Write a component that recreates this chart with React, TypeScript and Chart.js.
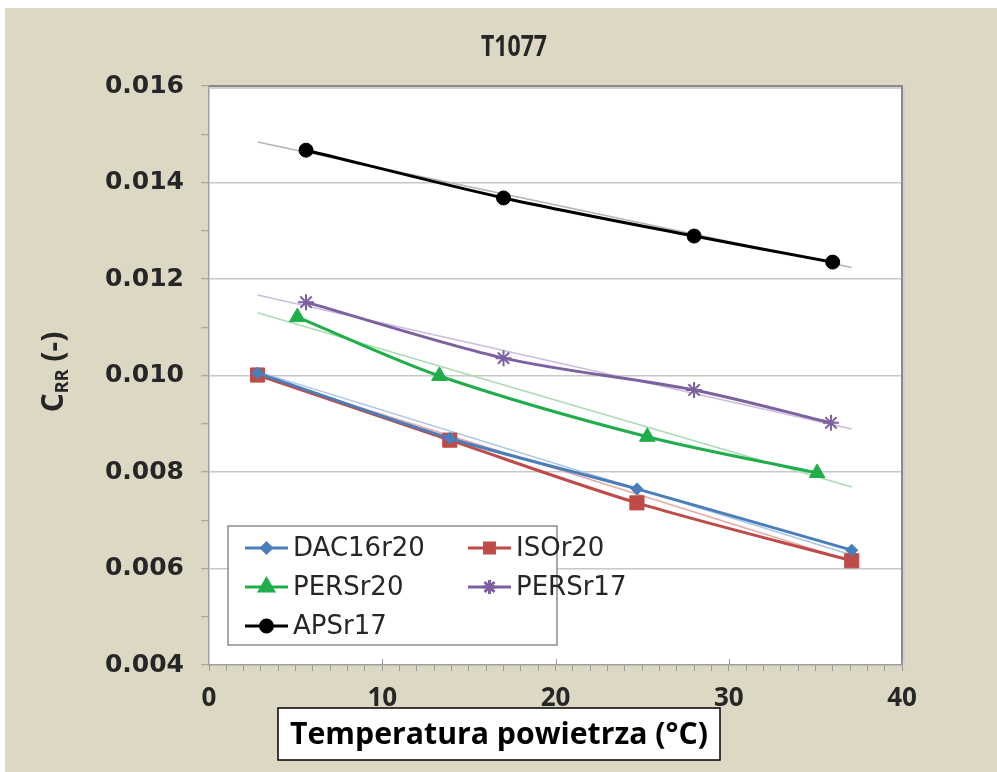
import React, { useEffect, useRef } from "react";
import { Chart, registerables } from "chart.js";
import { drawPoint } from "chart.js/helpers";

Chart.register(...registerables);

// ---- data ----
const chartTitle = "T1077";
const xAxisTitle = "Temperatura powietrza (°C)";
const seriesNames = ["DAC16r20", "ISOr20", "PERSr20", "PERSr17", "APSr17"];

const dacX = [2.8, 13.9, 24.7, 37.1];
const dacY = [0.01005, 0.0087, 0.00765, 0.00638];
const isoX = [2.8, 13.9, 24.7, 37.1];
const isoY = [0.01001, 0.00866, 0.00736, 0.00616];
const pers20X = [5.1, 13.3, 25.3, 35.1];
const pers20Y = [0.01121, 0.00999, 0.00873, 0.00798];
const pers17X = [5.6, 17.0, 28.0, 35.9];
const pers17Y = [0.01152, 0.01036, 0.0097, 0.00902];
const apsX = [5.6, 17.0, 28.0, 36.0];
const apsY = [0.01467, 0.01368, 0.01289, 0.01235];

// trendline end points
const trendX = [2.8, 37.1];
const dacTrendY = [0.01008, 0.00628];
const isoTrendY = [0.01, 0.00615];
const pers20TrendY = [0.0113, 0.00769];
const pers17TrendY = [0.01167, 0.00889];
const apsTrendY = [0.01484, 0.01224];

const xTickLabels = [0, 10, 20, 30, 40];
const yTickLabels = [0.004, 0.006, 0.008, 0.01, 0.012, 0.014, 0.016];

const pts = (xs: number[], ys: number[]) => xs.map((x, i) => ({ x, y: ys[i] }));

const COLORS = {
  dac: "#4a7ebb",
  iso: "#be4b48",
  pers20: "#1fae4a",
  pers17: "#7d60a0",
  aps: "#000000",
};

const isMajorY = (v: number) => yTickLabels.some((t) => Math.abs(t - v) < 1e-7);

const decorPlugin = {
  id: "decor",
  beforeDraw(chart: any) {
    const { ctx, chartArea } = chart;
    ctx.save();
    ctx.fillStyle = "#ffffff";
    ctx.fillRect(0, 0, chart.width, chart.height);
    ctx.fillStyle = "#dcd8c4";
    ctx.fillRect(5, 8, chart.width - 5, chart.height - 8);
    ctx.fillStyle = "#ffffff";
    ctx.fillRect(chartArea.left, chartArea.top, chartArea.right - chartArea.left, chartArea.bottom - chartArea.top);
    ctx.restore();
  },
  beforeDatasetsDraw(chart: any) {
    const { ctx, chartArea } = chart;
    ctx.save();
    // plot-area border (top and right) with a faint shadow
    ctx.strokeStyle = "#d0d0d0";
    ctx.lineWidth = 2;
    ctx.beginPath();
    ctx.moveTo(chartArea.left, chartArea.top + 2);
    ctx.lineTo(chartArea.right + 2, chartArea.top + 2);
    ctx.lineTo(chartArea.right + 2, chartArea.bottom);
    ctx.stroke();
    ctx.strokeStyle = "#8a8a8a";
    ctx.lineWidth = 2;
    ctx.beginPath();
    ctx.moveTo(chartArea.left, chartArea.top);
    ctx.lineTo(chartArea.right, chartArea.top);
    ctx.lineTo(chartArea.right, chartArea.bottom);
    ctx.stroke();
    // major x ticks crossing the axis
    const xs = chart.scales.x;
    ctx.strokeStyle = "#9a9a9a";
    ctx.lineWidth = 1;
    xTickLabels.forEach((v) => {
      if (v === 0) return;
      const px = Math.round(xs.getPixelForValue(v)) + 0.5;
      ctx.beginPath();
      ctx.moveTo(px, chartArea.bottom - 6);
      ctx.lineTo(px, chartArea.bottom);
      ctx.stroke();
    });
    ctx.restore();
  },
  afterDraw(chart: any) {
    const { ctx } = chart;
    ctx.save();
    ctx.fillStyle = "#262626";
    ctx.textBaseline = "middle";
    ctx.textAlign = "center";

    // chart title
    ctx.font = 'bold 29px "Open Sans"';
    {
      const w = ctx.measureText(chartTitle).width;
      const target = 66;
      ctx.save();
      ctx.translate(514, 48);
      ctx.scale(target / w, 1);
      ctx.fillText(chartTitle, 0, 0);
      ctx.restore();
    }

    // x-axis title in a white box
    const bx = 278, by = 708, bw = 442, bh = 52;
    ctx.fillStyle = "#ffffff";
    ctx.fillRect(bx, by, bw, bh);
    ctx.strokeStyle = "#000000";
    ctx.lineWidth = 1.5;
    ctx.strokeRect(bx, by, bw, bh);
    ctx.fillStyle = "#000000";
    ctx.font = 'bold 30px "Open Sans"';
    {
      const w = ctx.measureText(xAxisTitle).width;
      const target = 418;
      ctx.save();
      ctx.translate(bx + bw / 2, by + bh / 2 + 1);
      ctx.scale(target / w, 1);
      ctx.fillText(xAxisTitle, 0, 0);
      ctx.restore();
    }

    // y-axis title C_RR (-)
    ctx.save();
    ctx.translate(52, 372);
    ctx.rotate(-Math.PI / 2);
    ctx.fillStyle = "#262626";
    ctx.textAlign = "left";
    ctx.textBaseline = "alphabetic";
    const fBig = 'bold 30px "Open Sans"';
    const fSmall = 'bold 18px "Open Sans"';
    ctx.font = fBig;
    const wC = ctx.measureText("C").width;
    const wP = ctx.measureText(" (-)").width;
    ctx.font = fSmall;
    const wR = ctx.measureText("RR").width;
    const total = wC + wR + wP;
    let cx = -total / 2;
    ctx.font = fBig;
    ctx.fillText("C", cx, 11);
    cx += wC;
    ctx.font = fSmall;
    ctx.fillText("RR", cx, 16);
    cx += wR;
    ctx.font = fBig;
    ctx.fillText(" (-)", cx, 11);
    ctx.restore();

    // legend box
    const lx = 228, ly = 526, lw = 329, lh = 119;
    ctx.fillStyle = "#ffffff";
    ctx.fillRect(lx, ly, lw, lh);
    ctx.strokeStyle = "#8c8c8c";
    ctx.lineWidth = 1.5;
    ctx.strokeRect(lx, ly, lw, lh);
    ctx.font = '26px "DejaVu Sans"';
    ctx.textAlign = "left";
    ctx.textBaseline = "middle";
    const legendRadius = [5, 7, 8, 7, 6];
    seriesNames.forEach((name, i) => {
      const ds: any = chart.data.datasets[i];
      const col = i % 2;
      const row = Math.floor(i / 2);
      const sx = lx + 17 + col * 223;
      const sy = ly + 22 + row * 39;
      ctx.strokeStyle = ds.borderColor;
      ctx.lineWidth = 3;
      ctx.beginPath();
      ctx.moveTo(sx, sy);
      ctx.lineTo(sx + 43, sy);
      ctx.stroke();
      ctx.fillStyle = ds.pointBackgroundColor;
      ctx.strokeStyle = ds.pointBorderColor;
      drawPoint(
        ctx,
        { pointStyle: ds.pointStyle, radius: legendRadius[i], rotation: 0, borderWidth: ds.pointBorderWidth },
        sx + 21.5,
        sy
      );
      ctx.fillStyle = "#262626";
      ctx.fillText(name, sx + 48, sy + 1);
    });
    ctx.restore();
  },
};

function mainSeries(label: string, xs: number[], ys: number[], color: string, style: string, radius: number, bw = 1) {
  return {
    label,
    data: pts(xs, ys),
    showLine: true,
    borderColor: color,
    backgroundColor: color,
    pointBackgroundColor: color,
    pointBorderColor: color,
    pointStyle: style,
    pointRadius: radius,
    pointBorderWidth: bw,
    borderWidth: 3,
    tension: 0.3,
    order: 1,
  };
}

function trendSeries(label: string, ys: number[], color: string) {
  return {
    label,
    data: pts(trendX, ys),
    showLine: true,
    borderColor: color,
    backgroundColor: color,
    pointRadius: 0,
    borderWidth: 1.5,
    tension: 0,
    order: 5,
  };
}

export default function App() {
  const ref = useRef<HTMLCanvasElement | null>(null);

  useEffect(() => {
    if (!ref.current) return;
    const chart = new Chart(ref.current, {
      type: "scatter",
      data: {
        datasets: [
          mainSeries(seriesNames[0], dacX, dacY, COLORS.dac, "rectRot", 6),
          mainSeries(seriesNames[1], isoX, isoY, COLORS.iso, "rect", 10),
          mainSeries(seriesNames[2], pers20X, pers20Y, COLORS.pers20, "triangle", 9),
          mainSeries(seriesNames[3], pers17X, pers17Y, COLORS.pers17, "star", 8, 2),
          mainSeries(seriesNames[4], apsX, apsY, COLORS.aps, "circle", 7),
          trendSeries("dac trend", dacTrendY, "#a9c4e6"),
          trendSeries("iso trend", isoTrendY, "#e6aaa8"),
          trendSeries("pers20 trend", pers20TrendY, "#aadbb4"),
          trendSeries("pers17 trend", pers17TrendY, "#cbbcdd"),
          trendSeries("aps trend", apsTrendY, "#b4b4b4"),
        ] as any,
      },
      options: {
        animation: false,
        responsive: false,
        events: [],
        layout: { padding: { top: 86, right: 95, left: 0, bottom: 0 } },
        plugins: {
          legend: { display: false },
          title: { display: false },
          tooltip: { enabled: false },
        },
        scales: {
          x: {
            type: "linear",
            min: 0,
            max: 40,
            afterFit: (s: any) => {
              s.height = 107;
            },
            ticks: {
              stepSize: 1,
              autoSkip: false,
              maxRotation: 0,
              minRotation: 0,
              padding: 12,
              color: "#262626",
              font: { family: "Open Sans", size: 26, weight: "bold" },
              callback: (v: any) => (xTickLabels.includes(Number(v)) ? String(v) : ""),
            },
            grid: {
              drawOnChartArea: false,
              drawTicks: true,
              tickLength: 6,
              tickColor: "#9a9a9a",
              tickWidth: 1,
            },
            border: { color: "#a0a0a0", width: 1.5 },
          },
          y: {
            type: "linear",
            min: 0.004,
            max: 0.016,
            afterFit: (s: any) => {
              s.width = 209;
            },
            ticks: {
              stepSize: 0.001,
              autoSkip: false,
              padding: 17,
              color: "#262626",
              font: { family: "DejaVu Sans", size: 25, weight: "bold" },
              callback: (v: any) => (isMajorY(Number(v)) ? Number(v).toFixed(3) : ""),
            },
            grid: {
              color: (c: any) =>
                c.tick && isMajorY(c.tick.value) && c.tick.value > 0.0045 && c.tick.value < 0.0155
                  ? "#c8c8c8"
                  : "rgba(0,0,0,0)",
              lineWidth: 1.5,
              drawTicks: true,
              tickLength: 8,
              tickColor: "#9a9a9a",
              tickWidth: 1,
            },
            border: { color: "#a0a0a0", width: 1.5 },
          },
        },
      } as any,
      plugins: [decorPlugin],
    });
    return () => chart.destroy();
  }, []);

  return (
    <div style={{ position: "absolute", left: 0, top: 0, width: 997, height: 772 }}>
      <canvas ref={ref} width={997} height={772} style={{ display: "block" }} />
    </div>
  );
}
